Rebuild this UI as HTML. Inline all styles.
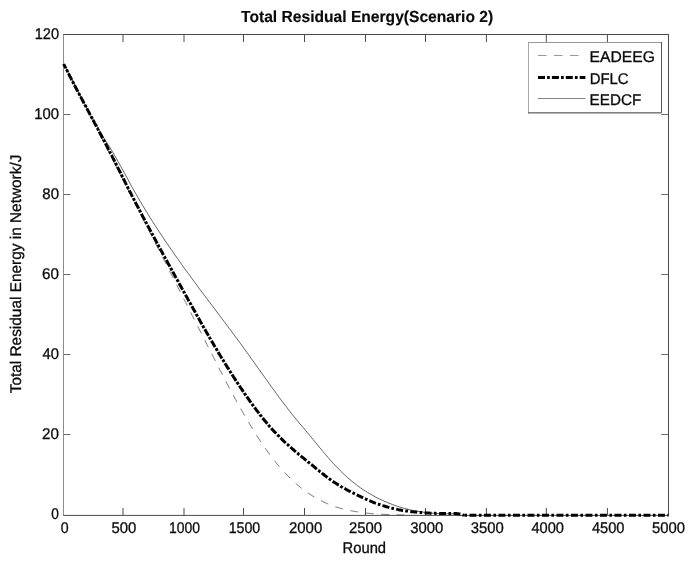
<!DOCTYPE html>
<html><head><meta charset="utf-8"><title>Total Residual Energy(Scenario 2)</title>
<style>html,body{margin:0;padding:0;background:#fff;}body{width:692px;height:563px;overflow:hidden;}</style></head>
<body>
<svg width="692" height="563" viewBox="0 0 692 563" style="display:block">
<rect width="692" height="563" fill="#fff"/>
<path d="M63.0,34.5H669.0M668.5,34.5V515.5" stroke="#4a4a4a" stroke-width="1" fill="none"/>
<path d="M63.0,515.4H669.0" stroke="#4a4a4a" stroke-width="1" fill="none"/>
<path d="M63.5,34.5V515.5" stroke="#8c8c8c" stroke-width="1" fill="none"/>
<path d="M123,515.0v-7M123,35.0v7" stroke="#4a4a4a" stroke-width="1"/>
<path d="M184,515.0v-7M184,35.0v7" stroke="#4a4a4a" stroke-width="1"/>
<path d="M243.5,515.0v-7M243.5,35.0v7" stroke="#4a4a4a" stroke-width="1"/>
<path d="M304.5,515.0v-7M304.5,35.0v7" stroke="#4a4a4a" stroke-width="1"/>
<path d="M365.5,515.0v-7M365.5,35.0v7" stroke="#4a4a4a" stroke-width="1"/>
<path d="M425.5,515.0v-7M425.5,35.0v7" stroke="#4a4a4a" stroke-width="1"/>
<path d="M486.4,515.0v-7M486.4,35.0v7" stroke="#4a4a4a" stroke-width="1"/>
<path d="M546.3,515.0v-7M546.3,35.0v7" stroke="#4a4a4a" stroke-width="1"/>
<path d="M607.4,515.0v-7M607.4,35.0v7" stroke="#4a4a4a" stroke-width="1"/>
<path d="M64.0,434.5h6.4M668.0,434.5h-6.8" stroke="#6a6a6a" stroke-width="1"/>
<path d="M64.0,354.5h6.4M668.0,354.5h-6.8" stroke="#6a6a6a" stroke-width="1"/>
<path d="M64.0,274.5h6.4M668.0,274.5h-6.8" stroke="#6a6a6a" stroke-width="1"/>
<path d="M64.0,194.5h6.4M668.0,194.5h-6.8" stroke="#6a6a6a" stroke-width="1"/>
<path d="M64.0,114.5h6.4M668.0,114.5h-6.8" stroke="#6a6a6a" stroke-width="1"/>
<path d="M63.7,64.0 L65.9,68.2 L68.1,72.5 L70.2,76.7 L72.4,81.0 L74.6,85.2 L76.8,89.4 L78.9,93.7 L81.1,97.9 L83.3,102.2 L85.5,106.4 L87.7,110.7 L89.8,114.9 L92.0,119.2 L94.2,123.4 L96.4,127.7 L98.5,131.9 L100.7,136.2 L102.9,140.4 L105.1,144.7 L107.3,148.9 L109.4,153.2 L111.6,157.4 L113.8,161.7 L116.0,165.9 L118.1,170.2 L120.3,174.5 L122.5,178.7 L124.7,183.0 L126.9,187.2 L129.0,191.5 L131.2,195.8 L133.4,200.0 L135.6,204.3 L137.8,208.5 L139.9,212.8 L142.1,217.1 L144.3,221.3 L146.5,225.6 L148.6,229.9 L150.8,234.1 L153.0,238.4 L155.2,242.7 L157.4,247.0 L159.5,251.2 L161.7,255.5 L163.9,259.8 L166.1,264.0 L168.2,268.3 L170.4,272.6 L172.6,276.9 L174.8,281.1 L177.0,285.4 L179.1,289.7 L181.3,294.0 L183.5,298.3 L185.7,302.5 L187.8,306.8 L190.0,311.1 L192.2,315.4 L194.4,319.7 L196.6,324.0 L198.7,328.2 L200.9,332.5 L203.1,336.8 L205.3,341.1 L207.4,345.4 L209.6,349.7 L211.8,354.0 L214.0,358.2 L216.2,362.5 L218.3,366.8 L220.5,371.0 L222.7,375.2 L224.9,379.4 L227.0,383.5 L229.2,387.7 L231.4,391.7 L233.6,395.8 L235.8,399.8 L237.9,403.8 L240.1,407.7 L242.3,411.5 L244.5,415.3 L246.7,419.1 L248.8,422.7 L251.0,426.3 L253.2,429.9 L255.4,433.4 L257.5,436.8 L259.7,440.1 L261.9,443.4 L264.1,446.6 L266.3,449.7 L268.4,452.7 L270.6,455.7 L272.8,458.5 L275.0,461.3 L277.1,464.0 L279.3,466.6 L281.5,469.1 L283.7,471.5 L285.9,473.8 L288.0,476.1 L290.2,478.2 L292.4,480.3 L294.6,482.3 L296.7,484.3 L298.9,486.1 L301.1,487.9 L303.3,489.6 L305.5,491.2 L307.6,492.8 L309.8,494.2 L312.0,495.6 L314.2,497.0 L316.3,498.2 L318.5,499.4 L320.7,500.6 L322.9,501.6 L325.1,502.6 L327.2,503.6 L329.4,504.5 L331.6,505.3 L333.8,506.1 L335.9,506.9 L338.1,507.6 L340.3,508.2 L342.5,508.8 L344.7,509.4 L346.8,509.9 L349.0,510.4 L351.2,510.8 L353.4,511.2 L355.6,511.6 L357.7,511.9 L359.9,512.3 L362.1,512.6 L364.3,512.8 L366.4,513.1 L368.6,513.3 L370.8,513.5 L373.0,513.7 L375.2,513.8 L377.3,514.0 L379.5,514.1 L381.7,514.2 L383.9,514.3 L386.0,514.4 L388.2,514.5 L390.4,514.6 L392.6,514.7 L394.8,514.8 L396.9,514.8 L399.1,514.9 L401.3,514.9 L403.5,515.0 L405.6,515.1 L407.8,515.1 L410.0,515.2" fill="none" stroke="#333" stroke-width="0.65" stroke-dasharray="8 7.5"/>
<path d="M63.7,64.0 L66.2,68.7 L68.6,73.4 L71.1,78.1 L73.6,82.8 L76.1,87.6 L78.5,92.3 L81.0,97.1 L83.5,101.8 L85.9,106.4 L88.4,111.0 L90.9,115.6 L93.4,120.0 L95.8,124.4 L98.3,128.7 L100.8,132.8 L103.2,136.9 L105.7,140.8 L108.2,144.8 L110.7,148.8 L113.1,152.9 L115.6,157.1 L118.1,161.5 L120.5,166.0 L123.0,170.5 L125.5,175.0 L128.0,179.6 L130.4,184.1 L132.9,188.6 L135.4,193.0 L137.9,197.3 L140.3,201.5 L142.8,205.7 L145.3,209.8 L147.7,213.8 L150.2,217.8 L152.7,221.7 L155.2,225.5 L157.6,229.3 L160.1,233.1 L162.6,236.8 L165.0,240.5 L167.5,244.2 L170.0,247.8 L172.5,251.3 L174.9,254.9 L177.4,258.4 L179.9,261.9 L182.3,265.3 L184.8,268.8 L187.3,272.2 L189.8,275.6 L192.2,279.0 L194.7,282.3 L197.2,285.6 L199.6,289.0 L202.1,292.3 L204.6,295.6 L207.1,298.9 L209.5,302.2 L212.0,305.4 L214.5,308.7 L216.9,312.0 L219.4,315.3 L221.9,318.6 L224.4,321.9 L226.8,325.2 L229.3,328.5 L231.8,331.8 L234.2,335.1 L236.7,338.4 L239.2,341.8 L241.7,345.2 L244.1,348.6 L246.6,352.0 L249.1,355.4 L251.5,358.9 L254.0,362.3 L256.5,365.8 L259.0,369.3 L261.4,372.8 L263.9,376.2 L266.4,379.7 L268.9,383.2 L271.3,386.6 L273.8,390.0 L276.3,393.4 L278.7,396.8 L281.2,400.1 L283.7,403.4 L286.2,406.6 L288.6,409.8 L291.1,413.0 L293.6,416.1 L296.0,419.1 L298.5,422.1 L301.0,425.0 L303.5,427.9 L305.9,430.8 L308.4,433.8 L310.9,436.8 L313.3,439.8 L315.8,442.8 L318.3,445.9 L320.8,448.9 L323.2,451.8 L325.7,454.7 L328.2,457.6 L330.6,460.4 L333.1,463.2 L335.6,465.8 L338.1,468.4 L340.5,470.9 L343.0,473.3 L345.5,475.7 L347.9,477.9 L350.4,480.0 L352.9,482.1 L355.4,484.0 L357.8,485.9 L360.3,487.7 L362.8,489.4 L365.2,491.0 L367.7,492.5 L370.2,494.0 L372.7,495.4 L375.1,496.8 L377.6,498.1 L380.1,499.3 L382.5,500.4 L385.0,501.5 L387.5,502.6 L390.0,503.6 L392.4,504.5 L394.9,505.4 L397.4,506.3 L399.9,507.0 L402.3,507.8 L404.8,508.5 L407.3,509.1 L409.7,509.7 L412.2,510.3 L414.7,510.8 L417.2,511.2 L419.6,511.6 L422.1,512.0 L424.6,512.4 L427.0,512.7 L429.5,512.9 L432.0,513.1 L434.5,513.3 L436.9,513.5 L439.4,513.6 L441.9,513.7 L444.3,513.8 L446.8,513.8 L449.3,513.8 L451.8,513.7 L454.2,513.7 L456.7,513.6" fill="none" stroke="#111" stroke-width="0.65"/>
<path d="M63.7,64.0L64.1,64.9L64.6,65.8L65.0,66.7L65.5,67.6L65.9,68.3M66.5,69.6L66.8,70.1L67.0,70.6L67.3,71.1L67.6,71.7L67.8,72.2M68.5,73.4L69.0,74.5L69.7,76.0L70.4,77.2L71.1,78.6L71.8,80.0M72.5,81.3L72.8,81.8L73.0,82.4L73.3,82.9L73.6,83.4L73.8,83.9M74.5,85.1L75.1,86.3L75.8,87.7L76.5,88.9L77.2,90.3L77.9,91.7M78.6,93.0L78.8,93.3L79.1,93.9L79.4,94.4L79.6,94.9L80.0,95.5M80.6,96.8L81.2,97.9L82.0,99.4L82.6,100.6L83.4,102.0L84.1,103.4M84.8,104.6L85.0,105.0L85.3,105.5L85.6,106.1L85.9,106.6L86.1,107.2M86.8,108.4L87.5,109.6L88.2,111.0L88.9,112.2L89.6,113.7L90.3,115.0M91.0,116.2L91.2,116.7L91.5,117.2L91.8,117.7L92.1,118.2L92.4,118.8M93.0,120.0L93.7,121.2L94.4,122.6L95.1,123.9L95.9,125.3L96.5,126.6M97.2,127.9L97.5,128.3L97.7,128.8L98.0,129.4L98.3,129.9L98.6,130.4M99.2,131.7L99.9,132.9L100.6,134.3L101.3,135.5L102.0,137.0L102.7,138.2M103.4,139.5L103.6,140.0L103.9,140.5L104.2,141.0L104.5,141.6L104.7,142.1M105.4,143.3L105.9,144.4L106.7,145.8L107.4,147.2L108.1,148.7L108.8,149.9M109.5,151.2L109.7,151.7L110.0,152.2L110.3,152.8L110.5,153.3L110.8,153.7M111.4,155.0L112.0,156.1L112.7,157.6L113.3,158.8L114.1,160.2L114.8,161.7M115.4,162.9L115.7,163.5L116.0,164.0L116.2,164.5L116.5,165.1L116.7,165.5M117.4,166.8L117.9,167.9L118.7,169.4L119.3,170.6L120.0,172.0L120.7,173.4M121.3,174.7L121.5,175.1L121.8,175.6L122.1,176.1L122.3,176.7L122.6,177.2M123.3,178.5L123.9,179.7L124.6,181.2L125.2,182.4L125.9,183.8L126.6,185.2M127.3,186.4L127.5,186.9L127.8,187.4L128.0,187.9L128.3,188.5L128.6,189.0M129.2,190.3L129.8,191.5L130.6,192.9L131.2,194.2L131.9,195.6L132.6,196.9M133.3,198.2L133.5,198.6L133.8,199.2L134.0,199.7L134.3,200.2L134.6,200.7M135.2,202.0L135.8,203.1L136.5,204.5L137.3,205.9L138.0,207.3L138.7,208.6M139.3,209.8L139.6,210.3L139.9,210.9L140.1,211.4L140.4,211.9L140.6,212.4M141.3,213.7L141.9,214.8L142.6,216.2L143.3,217.4L144.0,218.8L144.8,220.2M145.5,221.5L145.7,222.0L146.0,222.5L146.3,223.1L146.6,223.6L146.8,224.0M147.5,225.3L148.1,226.4L148.8,227.8L149.5,229.1L150.3,230.5L151.0,231.9M151.7,233.1L151.9,233.5L152.1,234.0L152.4,234.5L152.7,235.1L153.0,235.6M153.7,236.9L154.3,238.1L155.1,239.5L155.8,240.7L156.5,242.1L157.2,243.5M157.9,244.7L158.1,245.1L158.4,245.6L158.7,246.2L159.0,246.7L159.3,247.2M160.0,248.5L160.6,249.7L161.4,251.1L162.1,252.3L162.8,253.7L163.5,255.0M164.2,256.3L164.5,256.7L164.7,257.2L165.0,257.8L165.3,258.3L165.6,258.8M166.3,260.1L167.0,261.3L167.7,262.7L168.4,263.9L169.2,265.3L169.9,266.6M170.6,267.9L170.8,268.3L171.1,268.8L171.4,269.3L171.7,269.9L172.0,270.4M172.7,271.6L173.3,272.8L174.1,274.2L174.8,275.5L175.5,276.9L176.2,278.1M176.9,279.4L177.2,279.8L177.5,280.4L177.8,280.9L178.1,281.4L178.3,281.9M179.0,283.2L179.7,284.4L180.5,285.8L181.2,287.0L181.9,288.4L182.6,289.7M183.3,290.9L183.6,291.4L183.9,291.9L184.2,292.4L184.5,293.0L184.7,293.4M185.4,294.7L186.1,295.9L186.9,297.3L187.6,298.6L188.3,300.0L189.0,301.2M189.7,302.5L190.0,302.9L190.3,303.5L190.6,304.0L190.9,304.5L191.1,305.0M191.8,306.2L192.4,307.3L193.2,308.7L194.0,310.1L194.8,311.5L195.4,312.7M196.2,314.0L196.4,314.5L196.7,315.0L197.0,315.5L197.3,316.0L197.6,316.5M198.3,317.8L198.9,318.8L199.7,320.2L200.3,321.4L201.1,322.8L201.9,324.2M202.6,325.5L202.9,326.0L203.2,326.5L203.5,327.0L203.8,327.5L204.1,328.0M204.8,329.2L205.4,330.3L206.2,331.7L206.9,332.9L207.7,334.3L208.5,335.7M209.2,336.9L209.5,337.4L209.8,337.9L210.1,338.5L210.4,339.0L210.6,339.4M211.4,340.7L212.0,341.7L212.8,343.1L213.5,344.3L214.3,345.7L215.1,347.1M215.9,348.3L216.2,348.8L216.5,349.3L216.8,349.8L217.1,350.4L217.3,350.8M218.1,352.1L218.7,353.1L219.6,354.5L220.3,355.7L221.1,357.0L221.9,358.4M222.7,359.7L223.0,360.1L223.3,360.6L223.6,361.1L223.9,361.6L224.2,362.1M225.0,363.3L225.7,364.5L226.6,365.9L227.3,367.1L228.2,368.4L228.9,369.6M229.7,370.9L230.0,371.3L230.3,371.8L230.6,372.3L230.9,372.8L231.2,373.3M232.0,374.5L232.8,375.7L233.6,377.0L234.4,378.2L235.3,379.6L236.1,380.8M236.9,382.0L237.1,382.4L237.5,382.9L237.8,383.4L238.1,383.9L238.4,384.4M239.3,385.6L240.0,386.7L240.9,388.1L241.7,389.2L242.6,390.6L243.4,391.8M244.3,393.0L244.5,393.4L244.8,393.9L245.2,394.4L245.5,394.8L245.9,395.4M246.7,396.6L247.5,397.6L248.4,398.9L249.2,400.1L250.1,401.4L251.0,402.6M251.9,403.9L252.2,404.3L252.6,404.8L252.9,405.3L253.3,405.8L253.6,406.2M254.5,407.4L255.3,408.5L256.3,409.8L257.1,410.9L258.1,412.2L258.9,413.3M259.9,414.5L260.1,414.9L260.5,415.4L260.9,415.8L261.3,416.3L261.6,416.8M262.6,418.0L263.4,419.0L264.4,420.2L265.3,421.3L266.3,422.5L267.3,423.7M268.3,424.9L268.6,425.3L269.0,425.7L269.4,426.2L269.8,426.6L270.2,427.0M271.2,428.2L272.1,429.2L273.1,430.3L274.1,431.4L275.2,432.5L276.2,433.6M277.4,434.8L277.7,435.1L278.1,435.6L278.5,436.0L279.0,436.4L279.3,436.8M280.5,437.9L281.4,438.8L282.5,439.9L283.5,440.9L284.7,442.0L285.8,443.0M287.0,444.1L287.4,444.4L287.8,444.8L288.2,445.2L288.7,445.6L289.1,446.0M290.4,447.1L291.4,448.0L292.4,448.9L293.7,450.0L294.7,450.9L295.9,451.9M297.2,453.0L297.6,453.3L298.1,453.7L298.5,454.1L299.0,454.5L299.4,454.8M300.7,455.9L301.8,456.8L302.9,457.7L304.1,458.7L305.2,459.6L306.4,460.5M307.7,461.6L308.1,462.0L308.6,462.3L309.1,462.7L309.5,463.1L309.9,463.4M311.2,464.5L312.2,465.2L313.4,466.2L314.5,467.1L315.7,468.2L316.9,469.1M318.2,470.2L318.5,470.4L319.0,470.8L319.5,471.2L319.9,471.6L320.4,471.9M321.8,473.0L322.7,473.8L324.0,474.8L325.1,475.7L326.4,476.6L327.5,477.5M328.9,478.5L329.3,478.8L329.8,479.1L330.2,479.5L330.7,479.8L331.2,480.2M332.7,481.2L333.7,481.9L335.0,482.8L336.2,483.5L337.6,484.4L338.8,485.1M340.4,486.1L340.8,486.4L341.3,486.7L341.8,487.0L342.4,487.3L342.7,487.5M344.4,488.4L345.5,489.0L346.7,489.7L348.1,490.5L349.4,491.1L350.7,491.8M352.5,492.7L352.9,492.9L353.5,493.2L354.0,493.5L354.5,493.7L354.9,493.9M356.7,494.8L357.8,495.3L359.0,495.9L360.5,496.6L361.7,497.2L363.1,497.9M365.0,498.7L365.4,498.9L365.9,499.2L366.5,499.4L367.0,499.7L367.4,499.9M369.3,500.7L370.5,501.2L371.8,501.7L373.3,502.3L374.6,502.8L375.9,503.3M377.9,504.0L378.2,504.1L378.7,504.3L379.3,504.5L379.9,504.7L380.4,504.9M382.4,505.6L383.7,505.9L385.0,506.3L386.5,506.8L387.9,507.1L389.3,507.5M391.4,508.0L391.8,508.1L392.4,508.3L392.9,508.4L393.5,508.5L394.0,508.6M396.2,509.1L397.4,509.4L398.8,509.7L400.2,509.9L401.6,510.2L403.1,510.4M405.3,510.8L405.7,510.9L406.3,510.9L406.9,511.0L407.5,511.1L408.0,511.2M410.3,511.5L411.7,511.7L413.0,511.8L414.4,512.0L415.8,512.1L417.2,512.3M419.6,512.5L419.8,512.5L420.4,512.5L421.0,512.6L421.6,512.6L422.2,512.7M424.6,512.8L426.0,512.9L427.4,513.0L428.8,513.1L430.2,513.2L431.5,513.2M434.0,513.3L434.2,513.3L434.8,513.3L435.4,513.3L436.0,513.4L436.6,513.4M439.1,513.4L440.4,513.5L441.8,513.5L443.2,513.5L444.6,513.5L446.0,513.6M448.5,513.6L448.8,513.6L449.4,513.6L450.0,513.6L450.6,513.6L451.1,513.6M453.6,513.6L454.8,513.6L456.2,513.6L457.6,513.7L459.0,513.9L460.4,514.1M462.5,514.7L462.7,514.8L463.0,514.9L463.2,515.0L463.6,515.1L464.0,515.2M464.4,515.2L464.6,515.2L465.2,515.2L465.8,515.2L466.4,515.2L467.0,515.2M469.5,515.2L470.8,515.2L472.2,515.2L473.6,515.2L475.0,515.2L476.4,515.2M478.9,515.2L479.2,515.2L479.8,515.2L480.4,515.2L481.0,515.2L481.5,515.2M484.0,515.2L485.2,515.2L486.6,515.2L488.0,515.2L489.4,515.2L490.9,515.2M493.4,515.2L493.6,515.2L494.2,515.2L494.8,515.2L495.4,515.2L496.0,515.2M498.5,515.2L499.8,515.2L501.2,515.2L502.6,515.2L504.0,515.2L505.4,515.2M507.9,515.2L508.2,515.2L508.8,515.2L509.4,515.2L510.0,515.2L510.5,515.2M513.0,515.2L514.2,515.2L515.6,515.2L517.0,515.2L518.4,515.2L519.9,515.2M522.4,515.2L522.6,515.2L523.2,515.2L523.8,515.2L524.4,515.2L525.0,515.2M527.5,515.2L528.8,515.2L530.2,515.2L531.6,515.2L533.0,515.2L534.4,515.2M536.9,515.2L537.2,515.2L537.8,515.2L538.4,515.2L539.0,515.2L539.5,515.2M542.0,515.2L543.2,515.2L544.6,515.2L546.0,515.2L547.4,515.2L548.9,515.2M551.4,515.2L551.6,515.2L552.2,515.2L552.8,515.2L553.4,515.2L554.0,515.2M556.5,515.2L557.8,515.2L559.2,515.2L560.6,515.2L562.0,515.2L563.4,515.2M565.9,515.2L566.2,515.2L566.9,515.2L567.5,515.2L568.1,515.2L568.5,515.2M571.0,515.2L572.3,515.2L573.7,515.2L575.1,515.2L576.5,515.2L577.9,515.2M580.4,515.2L580.7,515.2L581.3,515.2L581.9,515.2L582.5,515.2L583.0,515.2M585.5,515.2L586.9,515.2L588.3,515.2L589.7,515.2L591.1,515.2L592.4,515.2M594.9,515.2L595.3,515.2L595.9,515.2L596.5,515.2L597.1,515.2L597.5,515.2M600.0,515.2L601.3,515.2L602.7,515.2L604.1,515.2L605.5,515.2L606.9,515.2M609.4,515.2L609.7,515.2L610.3,515.2L610.9,515.2L611.5,515.2L612.0,515.2M614.5,515.2L615.9,515.2L617.3,515.2L618.7,515.2L620.1,515.2L621.4,515.2M623.9,515.2L624.3,515.2L624.9,515.2L625.5,515.2L626.1,515.2L626.5,515.2M629.0,515.2L630.3,515.2L631.7,515.2L633.1,515.2L634.5,515.2L635.9,515.2M638.4,515.2L638.7,515.2L639.3,515.2L639.9,515.2L640.5,515.2L641.0,515.2M643.5,515.2L644.9,515.2L646.3,515.2L647.7,515.2L649.1,515.2L650.4,515.2M652.9,515.2L653.3,515.2L653.9,515.2L654.5,515.2L655.1,515.2L655.5,515.2M658.0,515.2L659.3,515.2L660.7,515.2L662.1,515.2L663.5,515.2L664.9,515.2M667.4,515.2L667.5,515.2L667.7,515.2L667.9,515.2L668.1,515.2L668.5,515.2" fill="none" stroke="#000" stroke-width="3.0"/>
<g font-family="Liberation Sans, Arial, sans-serif" font-size="15.5" fill="#0a0a0a" stroke="#0a0a0a" stroke-width="0.3" text-rendering="geometricPrecision">
<text id="xt0" x="60.63" y="533.30" textLength="7.87" lengthAdjust="spacingAndGlyphs">0</text>
<text id="xt1" x="111.47" y="533.30" textLength="24.84" lengthAdjust="spacingAndGlyphs">500</text>
<text id="xt2" x="168.95" y="533.30" textLength="31.01" lengthAdjust="spacingAndGlyphs">1000</text>
<text id="xt3" x="228.64" y="533.30" textLength="31.52" lengthAdjust="spacingAndGlyphs">1500</text>
<text id="xt4" x="288.91" y="533.30" textLength="33.32" lengthAdjust="spacingAndGlyphs">2000</text>
<text id="xt5" x="349.07" y="533.30" textLength="33.06" lengthAdjust="spacingAndGlyphs">2500</text>
<text id="xt6" x="410.17" y="533.30" textLength="33.06" lengthAdjust="spacingAndGlyphs">3000</text>
<text id="xt7" x="470.67" y="533.30" textLength="33.06" lengthAdjust="spacingAndGlyphs">3500</text>
<text id="xt8" x="531.40" y="533.30" textLength="32.57" lengthAdjust="spacingAndGlyphs">4000</text>
<text id="xt9" x="591.90" y="533.30" textLength="32.57" lengthAdjust="spacingAndGlyphs">4500</text>
<text id="xt10" x="652.02" y="533.30" textLength="33.00" lengthAdjust="spacingAndGlyphs">5000</text>
<text id="yt0" x="51.28" y="519.30" textLength="7.60" lengthAdjust="spacingAndGlyphs">0</text>
<text id="yt1" x="42.05" y="439.30" textLength="16.93" lengthAdjust="spacingAndGlyphs">20</text>
<text id="yt2" x="42.55" y="359.30" textLength="16.42" lengthAdjust="spacingAndGlyphs">40</text>
<text id="yt3" x="42.05" y="279.30" textLength="16.93" lengthAdjust="spacingAndGlyphs">60</text>
<text id="yt4" x="42.31" y="199.30" textLength="16.67" lengthAdjust="spacingAndGlyphs">80</text>
<text id="yt5" x="34.28" y="119.30" textLength="24.78" lengthAdjust="spacingAndGlyphs">100</text>
<text id="yt6" x="34.79" y="39.30" textLength="24.26" lengthAdjust="spacingAndGlyphs">120</text>
<text id="xlab" x="342.60" y="552.90" textLength="43.46" lengthAdjust="spacingAndGlyphs">Round</text>
<text id="ylab" transform="translate(21.10,393.30) rotate(-90)" textLength="238.70" lengthAdjust="spacingAndGlyphs">Total Residual Energy in Network/J</text>
<text id="title" x="241.05" y="22.30" textLength="252.12" lengthAdjust="spacingAndGlyphs" font-weight="bold" font-size="16" stroke-width="0.15">Total Residual Energy(Scenario 2)</text>
<rect x="528.5" y="42.5" width="133" height="70.4" fill="#fff"/>
<path d="M528.5,42V113.4" stroke="#a8a8a8" stroke-width="1"/>
<path d="M528,42.5H662" stroke="#989898" stroke-width="1"/>
<path d="M528,112.9H661" stroke="#555" stroke-width="1"/>
<path d="M661.5,42V112.9" stroke="#555" stroke-width="1"/>
<path d="M538,55.5H585.4" stroke="#999" stroke-width="1" stroke-dasharray="8.5 7.5"/>
<path d="M538,77.5H585.4" stroke="#000" stroke-width="3.1" stroke-dasharray="7 2.1 2.7 2.1"/>
<path d="M538,98.5H585.4" stroke="#808080" stroke-width="1"/>
<text id="lg0" x="589.59" y="61.60" textLength="65.23" lengthAdjust="spacingAndGlyphs">EADEEG</text>
<text id="lg1" x="589.64" y="83.60" textLength="38.93" lengthAdjust="spacingAndGlyphs">DFLC</text>
<text id="lg2" x="589.62" y="104.90" textLength="51.67" lengthAdjust="spacingAndGlyphs">EEDCF</text>
</g></svg>
</body></html>
